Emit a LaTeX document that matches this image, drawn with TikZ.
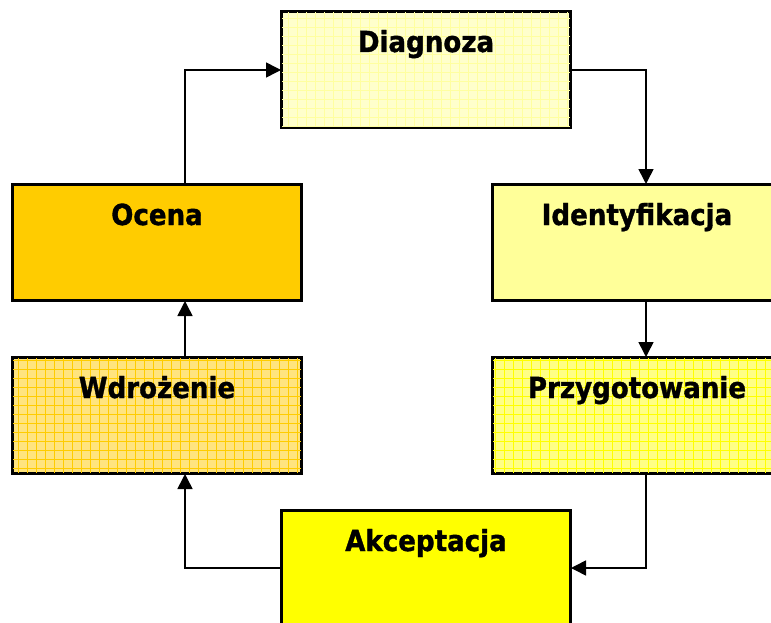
\documentclass[tikz,border=0pt]{standalone}
\usepackage{fontspec}
\setmainfont{DejaVu Sans}[FakeStretch=0.9, BoldFeatures={FakeBold=1.2}]
\usetikzlibrary{arrows.meta}
\definecolor{cDiag}{HTML}{FFFFCC}
\definecolor{cDiagL}{HTML}{FFFFA0}
\definecolor{cIdent}{HTML}{FFFF99}
\definecolor{cOcena}{HTML}{FFCC00}
\definecolor{cWdrBg}{HTML}{FFE47F}
\definecolor{cWdrL}{HTML}{FFCC00}
\definecolor{cPrzBg}{HTML}{FFFF85}
\definecolor{cPrzL}{HTML}{FFFF00}
\definecolor{cAkc}{HTML}{FFFF00}
\tikzset{
  stagebox/.style={draw=black, line width=2pt, minimum width=288pt, minimum height=115pt, inner sep=0pt, anchor=north west},
  stagetext/.style={anchor=base, font=\bfseries\fontsize{29}{32}\selectfont, inner sep=0pt},
  flow/.style={line width=1.6pt, -{Triangle[length=15pt,width=15pt]}}
}
\newcommand{\gridfill}[2]{% node name, colour
  \begin{scope}
    \clip (#1.north west) rectangle (#1.south east);
    \draw[#2, line width=0.7pt, step=9pt] (#1.north west) grid (#1.south east);
  \end{scope}
}
\begin{document}
\begin{tikzpicture}[x=1pt,y=-1pt]
\useasboundingbox (0,0) rectangle (771,623);
\clip (0,0) rectangle (771,623);
\fill[white] (0,0) rectangle (771,623);

\node[stagebox, fill=cDiag] (diag) at (281,11) {};
\gridfill{diag}{cDiagL}
\node[stagebox, fill=cIdent] (ident) at (492,184) {};
\node[stagebox, fill=cOcena] (ocena) at (12,184) {};
\node[stagebox, fill=cWdrBg] (wdr) at (12,357) {};
\gridfill{wdr}{cWdrL}
\node[stagebox, fill=cPrzBg] (prz) at (492,357) {};
\gridfill{prz}{cPrzL}
\node[stagebox, fill=cAkc] (akc) at (281,510) {};

\foreach \n in {diag,ident,ocena,wdr,prz,akc}{
  \draw[line width=2pt] (\n.north west) rectangle (\n.south east);
}

\node[stagetext] (tdiag) at ([yshift=-41pt]diag.north) {Diagnoza};
\node[stagetext] (tident) at ([yshift=-41pt]ident.north) {Identyfikacja};
\node[stagetext] (tocena) at ([yshift=-41pt]ocena.north) {Ocena};
\node[stagetext] (twdr) at ([yshift=-41pt]wdr.north) {Wdrożenie};
\node[stagetext] (tprz) at ([yshift=-41pt]prz.north) {Przygotowanie};
\node[stagetext] (takc) at ([yshift=-41pt]akc.north) {Akceptacja};

\coordinate (c1) at (185,70);
\coordinate (c2) at (646,70);
\coordinate (c3) at (646,568);
\coordinate (c4) at (185,568);

\draw[flow] (ocena.north -| c1) -- (c1) -- (diag.west |- c1);
\draw[flow] (diag.east |- c2) -- (c2) -- (ident.north -| c2);
\draw[flow] (ident.south -| c2) -- (prz.north -| c2);
\draw[flow] (prz.south -| c3) -- (c3) -- (akc.east |- c3);
\draw[flow] (akc.west |- c4) -- (c4) -- (wdr.south -| c4);
\draw[flow] (wdr.north -| c1) -- (ocena.south -| c1);
\end{tikzpicture}
\end{document}
